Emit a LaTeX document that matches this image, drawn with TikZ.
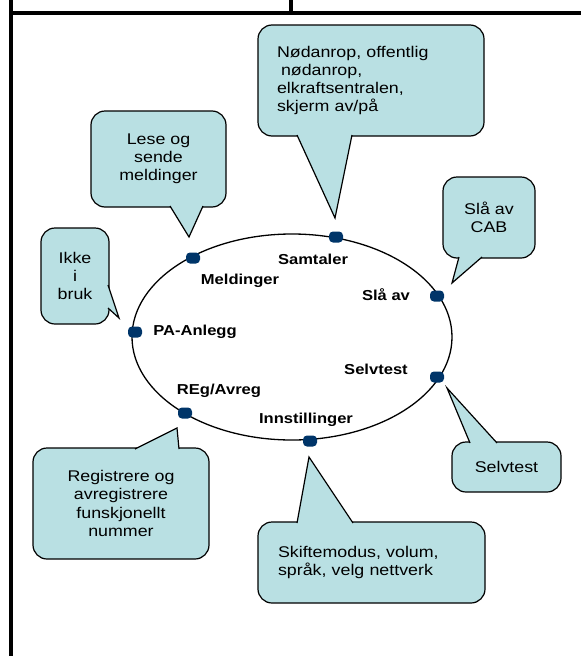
\documentclass[tikz,border=0pt]{standalone}
\usepackage{fontspec}
\setmainfont{Liberation Sans}[FakeStretch=1.15]
\definecolor{bubblefill}{RGB}{185,224,227}
\definecolor{knotblue}{RGB}{0,53,105}
\tikzset{bubble/.style={draw=black, line width=1.2pt, fill=bubblefill,
      rounded corners=14pt, align=center, inner sep=0pt,
      font=\fontsize{15.5}{18.2}\selectfont},
    tail/.style={draw=black, line width=1.2pt, fill=bubblefill, line join=miter},
    knot/.style={fill=knotblue, rounded corners=4pt, inner sep=0pt,
      minimum width=14pt, minimum height=11pt},
    menu/.style={inner sep=0pt, font=\bfseries\fontsize{14.4}{17}\selectfont},
    }

\begin{document}
\begin{tikzpicture}[x=1pt,y=-1pt]
	\useasboundingbox (0,0) rectangle (581,656);
	% frame
	\draw[line width=3.5pt] (11,0) -- (11,656);
	\draw[line width=3.5pt] (11,13) -- (581,13);
	\draw[line width=3.5pt] (291,0) -- (291,13);
	% menu ring
	\draw[line width=1.3pt] (292,337) ellipse [x radius=160pt, y radius=103pt];
	\node[knot] (ksam) at (336,237) {};
	\node[knot] (kmeld) at (193,258) {};
	\node[knot] (kslaa) at (437,296) {};
	\node[knot] (kpa) at (135,332) {};
	\node[knot] (ktest) at (437,377) {};
	\node[knot] (kreg) at (185,413) {};
	\node[knot] (kinst) at (310,441) {};
	\node[menu] (samtaler) at (313,259) {Samtaler};
	\node[menu] (meldinger) at (240,281) {Meldinger};
	\node[menu] (slaaav) at (386,295) {Slå av};
	\node[menu] (pa) at (195,332) {PA-Anlegg};
	\node[menu] (selvtest) at (376,369) {Selvtest};
	\node[menu] (reg) at (219,391) {REg/Avreg};
	\node[menu] (innst) at (306,420) {Innstillinger};
	% bubbles
	\node[bubble, text width=188pt, align=left, minimum width=226pt, minimum height=111pt]
		(nodanrop) at (371,80.5) {Nødanrop, offentlig\\\hspace*{4pt}nødanrop,\\elkraftsentralen,\\skjerm av/på};
	\node[bubble, minimum width=135pt, minimum height=96pt] (lese) at (158.5,159) {Lese og\\sende\\meldinger};
	\node[bubble, minimum width=68pt, minimum height=96pt] (ikke) at (75,276) {Ikke\\i\\bruk};
	\node[bubble, minimum width=92pt, minimum height=81pt] (cab) at (489,217.5) {Slå av\\CAB};
	\node[bubble, minimum width=109pt, minimum height=50pt] (test) at (506.5,467) {Selvtest};
	\node[bubble, minimum width=176pt, minimum height=111pt] (registrere) at (121,503.5)
		{Registrere og\\avregistrere\\funskjonellt\\nummer};
	\node[bubble, text width=187pt, align=left, minimum width=227pt, minimum height=81pt]
		(skifte) at (371.5,562.5) {Skiftemodus, volum,\\språk, velg nettverk};
	% tails
	\filldraw[tail] (297,135) -- (335,218) -- (352,135);
	\filldraw[tail] (170,206) -- (189,237) -- (203,206);
	\filldraw[tail] (108,285) -- (119,318) -- (108,308);
	\filldraw[tail] (459,257) -- (452,283) -- (482,257);
	\filldraw[tail] (470,443) -- (447,388) -- (497,443);
	\filldraw[tail] (135,449) -- (177,428) -- (179,449);
	\filldraw[tail] (297,523) -- (309,457) -- (353,523);
\end{tikzpicture}
\end{document}
